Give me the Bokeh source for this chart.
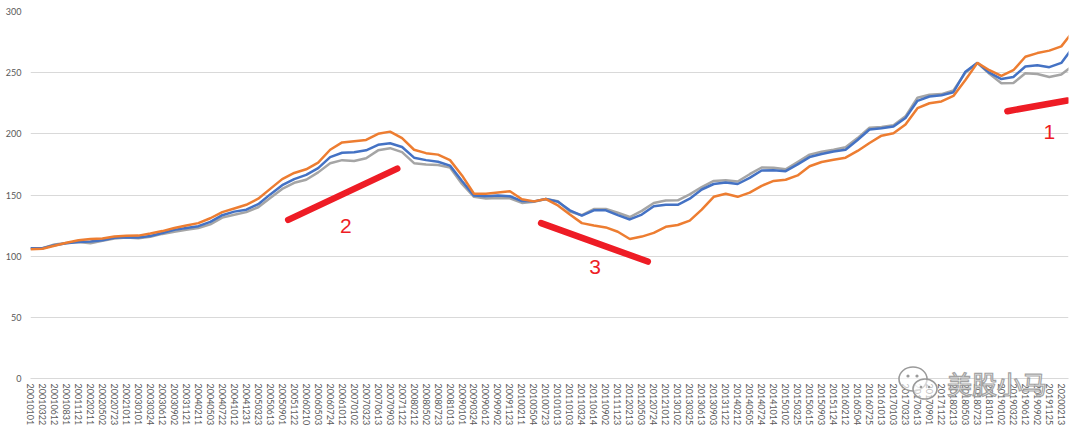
import numpy as np
from bokeh.plotting import figure
from bokeh.models import Range1d, FixedTicker, ColumnDataSource, Div
from bokeh.layouts import column
from bokeh.core.properties import value
from bokeh.embed import file_html
from bokeh.resources import INLINE

dates = [
    "20010101", "20010322", "20010612", "20010831", "20011121", "20020211", "20020502", "20020723",
    "20021011", "20030101", "20030324", "20030612", "20030902", "20031121", "20040211", "20040503",
    "20040722", "20041012", "20041231", "20050323", "20050613", "20050901", "20051122", "20060210",
    "20060503", "20060724", "20061012", "20070102",
    "20070323", "20070613", "20070903", "20071122", "20080212", "20080502", "20080723", "20081013",
    "20090101", "20090324", "20090612", "20090902", "20091123", "20100211", "20100504", "20100723",
    "20101013", "20110103", "20110324", "20110614", "20110902", "20111123", "20120213", "20120503",
    "20120724", "20121012", "20130102", "20130325", "20130613", "20130903",
    "20131122", "20140212", "20140505", "20140724", "20141014", "20150102", "20150325", "20150615",
    "20150903", "20151124", "20160212", "20160504", "20160725", "20161013", "20170103", "20170323",
    "20170613", "20170901", "20171122", "20180213", "20180503", "20180723", "20181011", "20190102",
    "20190322", "20190612", "20190902", "20191125", "20200213",
]

orange = [
    105.7, 106.0, 108.5, 111.0, 113.0, 114.0, 114.5, 116.0, 116.6, 116.8,
    118.5, 120.5, 123.0, 125.0, 127.0, 131.0, 136.0, 139.0, 142.0, 147.0,
    155.0, 163.0, 168.0, 171.0, 176.5, 187.0, 193.0, 194.0, 195.0, 200.0,
    201.8, 196.5, 187.0, 184.2, 183.0, 178.5, 166.0, 151.0, 151.0, 152.0,
    153.0, 146.5, 144.8, 146.7, 141.5, 134.0, 127.0, 125.0, 123.5, 120.0,
    114.0, 116.0, 119.0, 124.0, 125.5, 129.0, 138.0, 148.5, 151.0, 148.5,
    152.0, 157.5, 161.5, 162.5, 166.0, 173.5, 177.0, 178.8, 180.5, 186.0,
    192.5, 198.5, 200.5, 207.6, 221.0, 225.0, 226.5, 231.0, 244.0, 258.0,
    252.0, 247.3, 252.0, 263.0, 266.0, 268.0, 271.5, 284.0,
]
blue = [
    106.5, 106.5, 109.0, 110.5, 111.5, 112.0, 113.0, 115.0, 115.5, 115.2,
    116.5, 119.0, 121.5, 123.0, 124.5, 128.0, 133.5, 136.4, 138.0, 142.5,
    150.5, 158.0, 163.0, 166.5, 172.0, 181.0, 184.5, 185.0, 186.5, 191.0,
    192.3, 189.2, 180.5, 178.5, 177.2, 174.0, 161.5, 149.5, 149.0, 149.5,
    149.0, 145.0, 144.8, 146.7, 144.5, 137.5, 133.2, 137.5, 137.5, 133.5,
    130.0, 134.0, 140.8, 142.0, 142.0, 147.0, 154.5, 159.0, 160.3, 159.0,
    164.0, 170.0, 170.3, 169.5, 175.0, 181.0, 183.5, 185.6, 187.0, 195.0,
    203.5, 204.5, 206.0, 213.0, 227.0, 230.5, 231.5, 234.0, 250.8, 258.0,
    250.0, 244.8, 246.5, 255.0, 256.0, 254.5, 258.0, 271.0,
]
gray = [
    106.5, 106.5, 109.5, 110.8, 111.5, 110.5, 112.5, 114.5, 115.2, 114.7,
    115.8, 118.2, 120.0, 121.5, 123.0, 126.0, 131.5, 133.8, 136.0, 140.0,
    147.5, 155.0, 160.0, 162.5, 168.5, 176.0, 178.5, 177.8, 180.0, 186.5,
    188.3, 185.0, 176.0, 175.0, 174.5, 172.5, 159.0, 148.5, 147.2, 147.6,
    147.3, 143.5, 144.5, 146.7, 145.0, 136.5, 133.5, 138.5, 138.6, 135.5,
    132.0, 137.0, 143.5, 145.5, 145.7, 150.5, 156.5, 161.5, 162.0, 161.0,
    167.0, 172.5, 172.3, 171.0, 177.0, 183.0, 185.3, 187.0, 189.0, 196.5,
    205.0, 205.5, 207.0, 214.3, 229.5, 232.0, 232.5, 235.5, 250.0, 258.0,
    249.0, 241.3, 241.5, 249.5, 248.9, 246.5, 248.5, 256.0,
]

# red hand-drawn marks: start/end (label index, value) and their numbers
mark_x0 = [81.5, 21.5, 42.6]
mark_y0 = [218.5, 129.7, 127.0]
mark_x1 = [86.5, 30.6, 51.5]
mark_y1 = [227.3, 171.6, 95.6]
mark_tx = [85.0, 26.3, 47.1]
mark_ty = [201.3, 125.0, 91.0]
mark_txt = ["1", "2", "3"]

watermark = "美股小马"

BLUE = "#4472C4"
ORANGE = "#ED7D31"
GRAY = "#A5A5A5"
RED = "#EE1C25"
AX = "#595959"

p = figure(width=1080, height=433, output_backend="svg", toolbar_location=None,
           x_range=Range1d(0, 86.6), y_range=Range1d(0, 300),
           min_border_left=30, min_border_right=12, min_border_top=11, min_border_bottom=55)
p.background_fill_color = "white"
p.outline_line_color = None
p.xgrid.grid_line_color = None
p.ygrid.grid_line_color = "#D9D9D9"
p.ygrid.grid_line_width = 1

p.yaxis.ticker = FixedTicker(ticks=[0, 50, 100, 150, 200, 250, 300])
p.yaxis.axis_line_color = None
p.yaxis.major_tick_line_color = None
p.yaxis.minor_tick_line_color = None
p.yaxis.major_tick_out = 0
p.yaxis.major_label_standoff = 9
p.yaxis.major_label_text_font = "Lato"
p.yaxis.major_label_text_font_size = "9px"
p.yaxis.major_label_text_color = AX

xs_ticks = list(range(len(dates)))
p.xaxis.ticker = FixedTicker(ticks=xs_ticks)
p.xaxis.major_label_overrides = {i: d for i, d in enumerate(dates)}
p.xaxis.major_label_orientation = "vertical"
p.xaxis.axis_line_color = "#D9D9D9"
p.xaxis.major_tick_line_color = None
p.xaxis.minor_tick_line_color = None
p.xaxis.major_tick_out = 0
p.xaxis.major_label_standoff = 5
p.xaxis.major_label_text_font = "Lato"
p.xaxis.major_label_text_font_size = "9px"
p.xaxis.major_label_text_color = AX

x = np.arange(len(orange))
src = ColumnDataSource(dict(x=x, o=orange, b=blue, g=gray))
p.line("x", "g", source=src, color=GRAY, line_width=2.5)
p.line("x", "b", source=src, color=BLUE, line_width=2.5)
p.line("x", "o", source=src, color=ORANGE, line_width=2.5)

p.segment(x0=mark_x0, y0=mark_y0, x1=mark_x1, y1=mark_y1, color=RED,
          line_width=6.5, line_cap="round")
p.text(x=mark_tx, y=mark_ty, text=mark_txt, text_color=RED, text_font=value("Liberation Sans"),
       text_font_size="21px", text_align="center", text_baseline="middle")

# watermark overlay straddling the axis labels
icon_svg = (
    '<svg width="44" height="38" viewBox="0 0 44 38" style="vertical-align:middle">'
    '<ellipse cx="16" cy="14" rx="14" ry="12" fill="white" fill-opacity="0.6" stroke="#9A9A9A" stroke-width="1.6"/>'
    '<ellipse cx="28" cy="24" rx="12" ry="10" fill="white" fill-opacity="0.6" stroke="#9A9A9A" stroke-width="1.6"/>'
    '<circle cx="11" cy="11" r="1.6" fill="#9A9A9A"/><circle cx="20" cy="11" r="1.6" fill="#9A9A9A"/>'
    '<circle cx="24" cy="22" r="1.3" fill="#9A9A9A"/><circle cx="32" cy="22" r="1.3" fill="#9A9A9A"/>'
    '</svg>'
)
wm_div = Div(
    text=icon_svg + '<span style="font-family:\'Noto Sans CJK SC\';font-size:25px;color:white;'
    '-webkit-text-stroke:1.2px #9A9A9A;vertical-align:middle;margin-left:6px;opacity:0.9">'
    + watermark + '</span>',
    width=160, height=0,
    styles={"position": "absolute", "left": "892px", "top": "360px", "white-space": "nowrap",
            "overflow": "visible", "pointer-events": "none"},
)

layout = column(p, wm_div, spacing=0)
open("out.html", "w").write(file_html(layout, INLINE))
